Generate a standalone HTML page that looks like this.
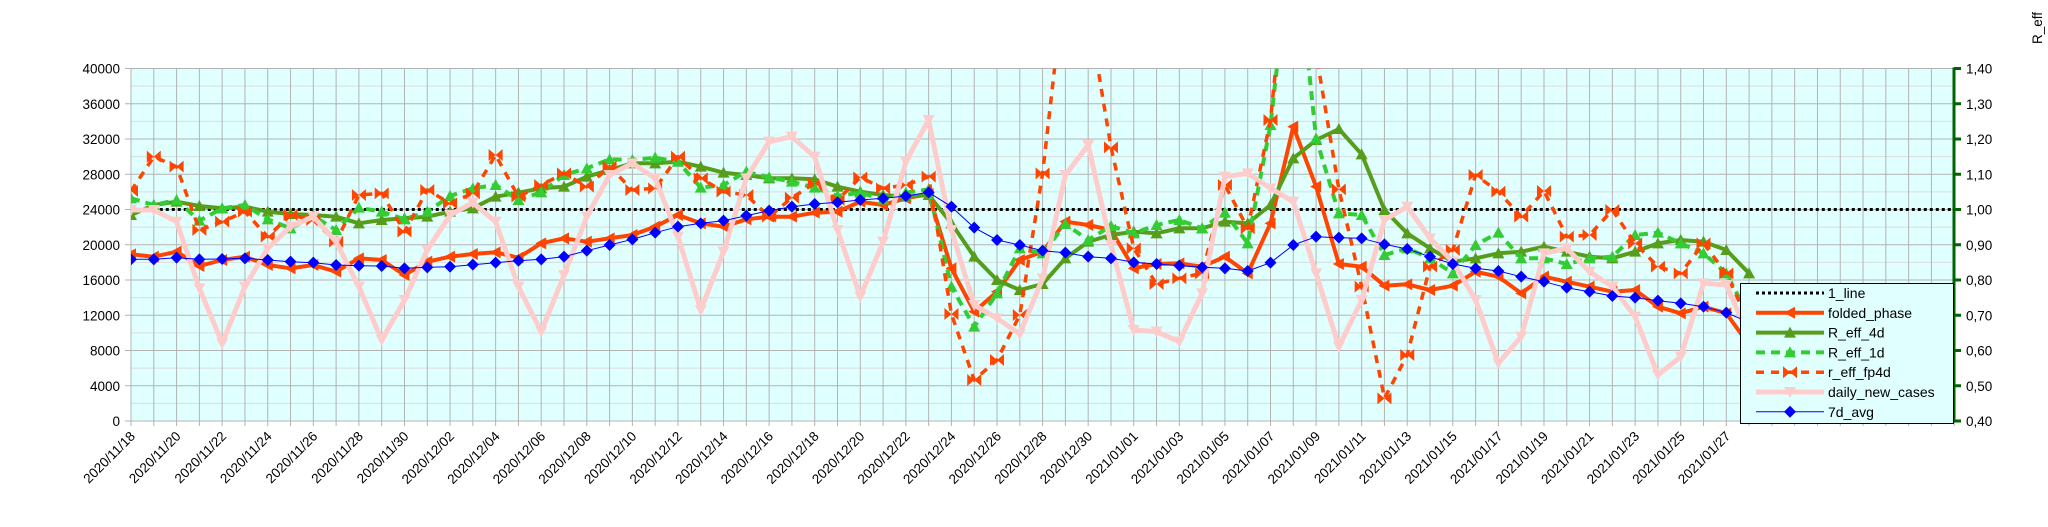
<!DOCTYPE html>
<html><head><meta charset="utf-8"><style>
html,body{margin:0;padding:0;background:#fff;}
svg{display:block;font-family:"Liberation Sans",sans-serif;}
</style></head><body>
<svg id="c" width="2048" height="527" xmlns="http://www.w3.org/2000/svg"></svg>
<script>
const svg=document.getElementById('c');
const L=131,R=1954,T=68.5,B=421,DX=22.79;
const X=i=>L+DX*i;
const Y=zy=>60+zy/3;
let s='';
s+=`<defs><clipPath id="pc"><rect x="${L}" y="${T}" width="${R-L}" height="${B-T}"/></clipPath></defs>`;
s+=`<rect x="${L}" y="${T}" width="${R-L}" height="${B-T}" fill="#e0ffff"/>`;
for(let k=0;k<=20;k++){const y=B-(B-T)*k/20; if(k%2) s+=`<line x1="${L}" x2="${R}" y1="${y}" y2="${y}" stroke="#dcdcdc" stroke-width="1"/>`;}
for(let i=0;i*DX+L<=R+1;i++){s+=`<line x1="${X(i)}" x2="${X(i)}" y1="${T}" y2="${B+5}" stroke="#b3b3b3" stroke-width="1"/>`;}
for(let k=0;k<=10;k++){const y=B-(B-T)*k/10; s+=`<line x1="${L-6}" x2="${R}" y1="${y}" y2="${y}" stroke="#b3b3b3" stroke-width="1"/>`;
 s+=`<text x="${L-11}" y="${y+5}" font-size="13.5" text-anchor="end" fill="#000">${k*4000}</text>`;
 s+=`<line x1="${R}" x2="${R+7}" y1="${y}" y2="${y}" stroke="#006400" stroke-width="3"/>`;
 s+=`<text x="${R+12}" y="${y+5}" font-size="13.5" fill="#000">${(0.4+k*0.1).toFixed(2).replace('.',',')}</text>`;}
s+=`<line x1="${R}" x2="${R}" y1="${T-1}" y2="${B+1}" stroke="#006400" stroke-width="3"/>`;
s+=`<text transform="translate(2042,44) rotate(-90)" font-size="13.5" fill="#000">R_eff</text>`;
const start=new Date(Date.UTC(2020,10,18));
for(let i=0;i<=70;i+=2){const d=new Date(start.getTime()+i*864e5);
 const t=d.getUTCFullYear()+'/'+String(d.getUTCMonth()+1).padStart(2,'0')+'/'+String(d.getUTCDate()).padStart(2,'0');
 s+=`<text transform="translate(${X(i)+5},${B+16}) rotate(-45)" font-size="13.5" text-anchor="end" fill="#000">${t}</text>`;}
const blue=[598,598,593,598,597,595,600,605,608,615,617,618,625,622,620,614,608,602,598,590,572,555,538,518,500,490,482,467,452,440,432,427,420,415,408,397,440,503,540,555,572,578,590,595,607,612,617,622,625,633,608,555,530,533,535,553,567,590,612,625,633,650,665,683,695,708,713,722,730,740,758,787];
const fold=[583,590,575,618,600,590,615,625,615,635,595,600,645,605,590,582,577,593,550,535,545,535,525,500,465,490,500,478,470,470,458,455,425,435,415,402,625,755,695,600,575,485,495,510,625,612,610,620,590,640,490,200,380,612,620,677,673,690,677,635,650,700,650,665,680,695,690,740,760,740,760,855];
const r4=[465,435,425,438,445,440,455,462,465,470,490,480,475,470,455,445,410,398,385,380,350,330,310,310,305,320,338,345,355,355,358,380,395,405,410,405,490,590,660,690,672,595,545,525,515,520,505,505,485,490,435,295,240,207,283,450,520,565,605,595,580,575,560,575,590,595,575,550,540,545,570,640];
const r1=[415,435,420,482,445,435,478,505,468,510,443,455,478,455,408,385,375,420,397,345,325,298,300,293,305,383,375,335,352,365,383,408,398,418,398,388,680,800,700,565,580,492,540,498,520,495,480,505,458,550,195,-420,235,460,465,585,565,595,640,555,518,595,595,612,595,590,525,518,550,580,640,770];
const fp=[393,290,320,510,485,455,530,465,480,545,405,400,515,390,430,400,285,410,375,340,380,320,390,385,290,355,395,405,470,413,370,420,352,385,375,350,762,960,900,765,340,-260,-150,262,565,672,655,640,375,505,180,-500,-20,388,680,1015,885,620,570,345,395,470,393,530,525,450,550,620,640,550,640,790];
const pink=[450,450,485,685,850,680,565,500,470,545,680,840,720,570,465,428,485,680,815,645,470,345,310,355,530,750,575,355,245,230,290,510,710,545,305,180,510,735,775,822,655,345,255,555,810,815,845,700,350,340,385,425,640,860,720,480,440,535,605,720,910,830,580,565,635,680,770,945,890,670,675,830];
const pts=a=>a.map((v,i)=>[X(i),Y(v)]);
const poly=(a,st)=>`<polyline points="${a.map(p=>p[0].toFixed(1)+','+p[1].toFixed(1)).join(' ')}" fill="none" ${st}/>`;
function mk(type,x,y,c){
 if(type=='tri') return `<polygon points="${x},${y-6} ${x-6},${y+5} ${x+6},${y+5}" fill="${c}"/>`;
 if(type=='dtri') return `<polygon points="${x},${y+6} ${x-6},${y-5} ${x+6},${y-5}" fill="${c}"/>`;
 if(type=='ltri') return `<polygon points="${x-6},${y} ${x+5},${y-6} ${x+5},${y+6}" fill="${c}"/>`;
 if(type=='bow') return `<polygon points="${x-7},${y-6} ${x},${y} ${x-7},${y+6}" fill="${c}"/><polygon points="${x+7},${y-6} ${x},${y} ${x+7},${y+6}" fill="${c}"/>`;
 if(type=='dia') return `<polygon points="${x},${y-6} ${x+6},${y} ${x},${y+6} ${x-6},${y}" fill="${c}"/>`;
}
let g='<g clip-path="url(#pc)">';
g+=`<line x1="${X(1)}" x2="${R}" y1="209.5" y2="209.5" stroke="#000" stroke-width="3" stroke-dasharray="3,3"/>`;
const series=[
 [fold,'#ff4500','stroke-width="4"','ltri'],
 [r4,'#579d1c','stroke-width="4"','tri'],
 [r1,'#33cc33','stroke-width="4" stroke-dasharray="9,6"','tri'],
 [fp,'#ff4500','stroke-width="3.5" stroke-dasharray="8,7"','bow'],
 [pink,'#ffcccc','stroke-width="5"','dtri'],
 [blue,'#0000ff','stroke-width="1"','dia']];
for(const [d,c,st,m] of series){const p=pts(d); g+=poly(p,`stroke="${c}" stroke-linejoin="round" ${st}`); for(const q of p) g+=mk(m,q[0],q[1],c);}
g+='</g>';
s+=g;
s+=`<rect x="1740.5" y="283.5" width="213" height="140" fill="#e0ffff" stroke="#000" stroke-width="1"/>`;
const lg=[['1_line','#000','stroke-width="3" stroke-dasharray="3,3"',null],['folded_phase','#ff4500','stroke-width="4"','ltri'],['R_eff_4d','#579d1c','stroke-width="4"','tri'],['R_eff_1d','#33cc33','stroke-width="4" stroke-dasharray="9,6"','tri'],['r_eff_fp4d','#ff4500','stroke-width="3.5" stroke-dasharray="8,7"','bow'],['daily_new_cases','#ffcccc','stroke-width="5"','dtri'],['7d_avg','#0000ff','stroke-width="1"','dia']];
lg.forEach((e,k)=>{const y=293+k*19.8;
 s+=`<line x1="1756" x2="1824" y1="${y}" y2="${y}" stroke="${e[1]}" ${e[2]}/>`;
 if(e[3]) s+=mk(e[3],1790,y,e[1]);
 s+=`<text x="1828" y="${y+5}" font-size="14" fill="#000">${e[0]}</text>`;});
svg.innerHTML=s;
</script>
</body></html>
